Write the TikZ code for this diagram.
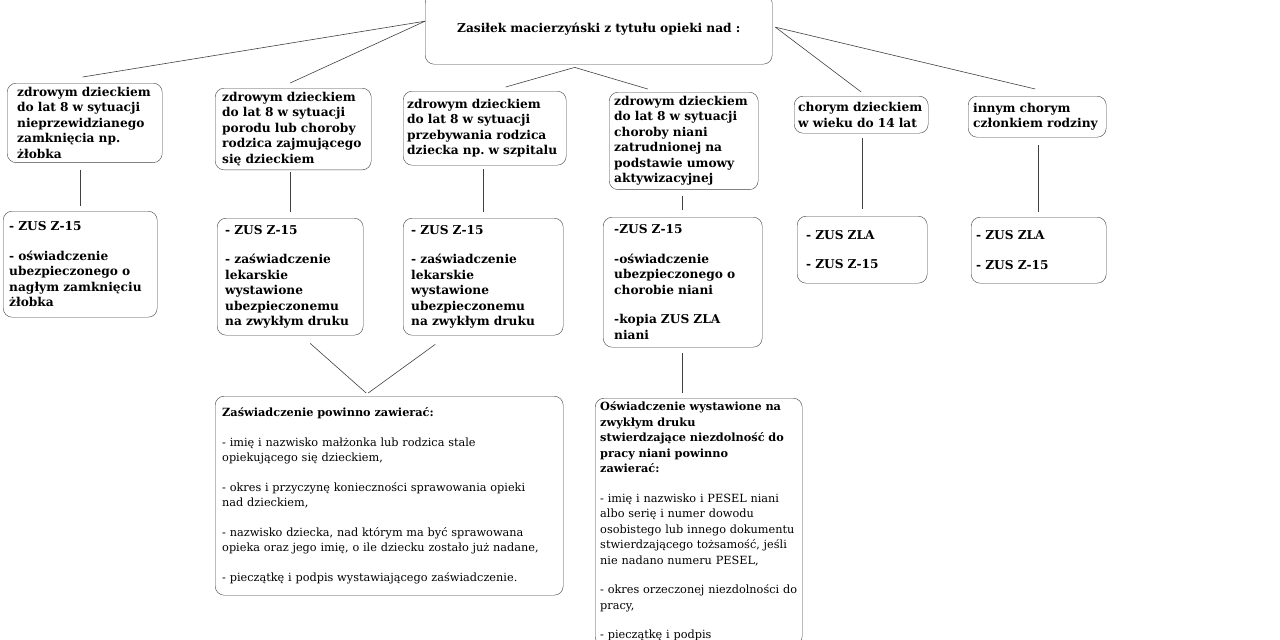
\documentclass[tikz,border=0pt]{standalone}
\usepackage{fontspec}
\setmainfont{DejaVu Serif}
\frenchspacing
\usetikzlibrary{calc}

\begin{document}
\begin{tikzpicture}[x=1pt,y=-1pt,
		pole/.style={draw=black!75, rounded corners=9pt, anchor=north west, align=left, inner xsep=4pt, inner ysep=4pt, font=\fontsize{12.2}{15.5}\selectfont\bfseries},
		opis/.style={pole, font=\fontsize{11.3}{15.5}\selectfont},
		linia/.style={draw=black!75, line width=0.6pt}]
				\useasboundingbox (0,0) rectangle (1280,640);
				\clip (0,0) rectangle (1280,640);
				
				\node[pole, align=center, text width=339, minimum height=70] (zasilek) at (425,-6) {Zasiłek macierzyński z tytułu opieki nad :};
				
				\node[pole, inner xsep=10pt, text width=135, minimum height=79] (b1) at (7,83) {zdrowym dzieckiem\\ do lat 8 w sytuacji\\ nieprzewidzianego\\ zamknięcia np.\\ żłobka};
				\node[pole, inner xsep=7pt, text width=142, minimum height=78] (b2) at (215,88) {zdrowym dzieckiem\\ do lat 8 w sytuacji\\ porodu lub choroby\\ rodzica zajmującego\\ się dzieckiem};
				\node[pole, text width=155, minimum height=74] (b3) at (403,91) {zdrowym dzieckiem\\ do lat 8 w sytuacji\\ przebywania rodzica\\ dziecka np. w szpitalu};
				\node[pole, inner xsep=5pt, text width=139, minimum height=92] (b4) at (609,92) {zdrowym dzieckiem\\ do lat 8 w sytuacji\\ choroby niani\\ zatrudnionej na\\ podstawie umowy\\ aktywizacyjnej};
				\node[pole, text width=126, minimum height=37] (b5) at (794,96) {chorym dzieckiem\\ w wieku do 14 lat};
				\node[pole, inner xsep=5pt, text width=128, minimum height=41] (b6) at (968,96) {innym chorym\\ członkiem rodziny};
				
				\node[pole, inner xsep=6pt, text width=142, minimum height=106] (c1) at (3,211) {- ZUS Z-15\\[14pt] - oświadczenie\\ ubezpieczonego o\\ nagłym zamknięciu\\ żłobka};
				\node[pole, inner xsep=8pt, text width=130, minimum height=117] (c2) at (217,218) {- ZUS Z-15\\[14pt] - zaświadczenie\\ lekarskie\\ wystawione\\ ubezpieczonemu\\ na zwykłym druku};
				\node[pole, inner xsep=8pt, text width=144, minimum height=117] (c3) at (403,218) {- ZUS Z-15\\[14pt] - zaświadczenie\\ lekarskie\\ wystawione\\ ubezpieczonemu\\ na zwykłym druku};
				\node[pole, inner xsep=11pt, text width=137, minimum height=130] (c4) at (603,217) {-ZUS Z-15\\[14pt] -oświadczenie\\ ubezpieczonego o\\ chorobie niani\\[14pt] -kopia ZUS ZLA\\ niani};
				\node[pole, inner xsep=9pt, text width=112, minimum height=67] (c5) at (797,216) {- ZUS ZLA\\[14pt] - ZUS Z-15};
				\node[pole, inner xsep=5pt, text width=125, minimum height=66] (c6) at (971,217) {- ZUS ZLA\\[14pt] - ZUS Z-15};
				
				\node[opis, inner xsep=7pt, text width=334, minimum height=199] (d1) at (215,396) {\textbf{Zaświadczenie powinno zawierać:}\\[14pt] - imię i nazwisko małżonka lub rodzica stale\\ opiekującego się dzieckiem,\\[14pt] - okres i przyczynę konieczności sprawowania opieki\\ nad dzieckiem,\\[14pt] - nazwisko dziecka, nad którym ma być sprawowana\\ opieka oraz jego imię, o ile dziecku zostało już nadane,\\[14pt] - pieczątkę i podpis wystawiającego zaświadczenie.};
				\node[opis, inner xsep=5pt, text width=197] (d2) at (595,398) {\textbf{Oświadczenie wystawione na}\\ \textbf{zwykłym druku}\\ \textbf{stwierdzające niezdolność do}\\ \textbf{pracy niani powinno}\\ \textbf{zawierać:}\\[14pt] - imię i nazwisko i PESEL niani\\ albo serię i numer dowodu\\ osobistego lub innego dokumentu\\ stwierdzającego tożsamość, jeśli\\ nie nadano numeru PESEL,\\[14pt] - okres orzeczonej niezdolności do\\ pracy,\\[14pt] - pieczątkę i podpis};
				
				\draw[linia] ($(zasilek.west)+(0,-8)$) -- ($(b1.north)+(-2,-6)$);
				\draw[linia] ($(zasilek.west)+(0,-8)$) -- ($(b2.north)+(-3,-5)$);
				\draw[linia] ($(zasilek.south)+(-24,3)$) -- ($(b3.north)+(21,-4)$);
				\draw[linia] ($(zasilek.south)+(-24,3)$) -- ($(b4.north)+(-36,-3)$);
				\draw[linia] ($(zasilek.east)+(3,-2)$) -- ($(b5.north)+(0,-4)$);
				\draw[linia] ($(zasilek.east)+(3,-2)$) -- ($(b6.north)+(-2,-7)$);
				
				\draw[linia, shorten <=7pt, shorten >=5pt] (b1.south -| c1.north) -- (c1.north);
				\draw[linia, shorten <=2pt, shorten >=6pt] (c2.north |- b2.south) -- (c2.north);
				\draw[linia, shorten <=4pt, shorten >=6pt] (c3.north |- b3.south) -- (c3.north);
				\draw[linia, shorten <=6pt, shorten >=7pt] (c4.north |- b4.south) -- (c4.north);
				\draw[linia, shorten <=5pt, shorten >=7pt] (c5.north |- b5.south) -- (c5.north);
				\draw[linia, shorten <=8pt, shorten >=5pt] (c6.north |- b6.south) -- (c6.north);
				
				\draw[linia] ($(c2.south)+(20,8)$) -- ($(d1.north)+(-23,-3)$);
				\draw[linia] ($(c3.south)+(-48,9)$) -- ($(d1.north)+(-21,-3)$);
				\draw[linia, shorten <=6pt, shorten >=5pt] (c4.south) -- (c4.south |- d2.north);
			\end{tikzpicture}
\end{document}
